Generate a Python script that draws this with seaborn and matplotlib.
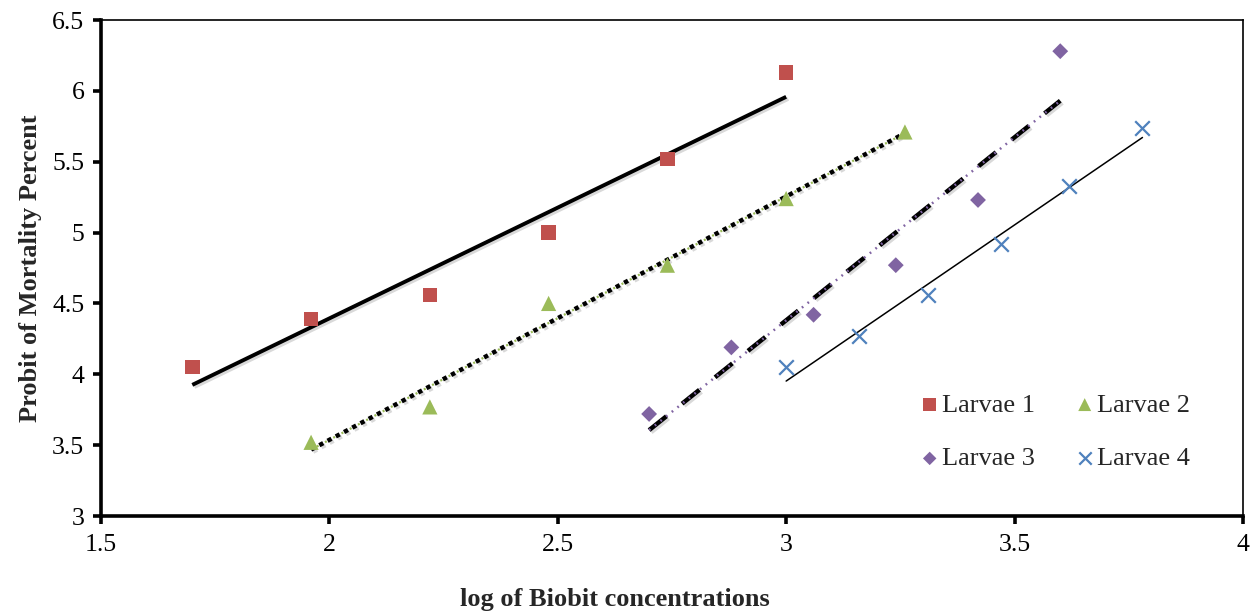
import numpy as np
import pandas as pd
import seaborn as sns
import matplotlib.pyplot as plt
import matplotlib.patheffects as pe

# log concentrations (x) and probit of mortality (y) for each larval instar
larvae1_x = [1.70, 1.96, 2.22, 2.48, 2.74, 3.00]
larvae1_y = [4.05, 4.39, 4.56, 5.00, 5.52, 6.13]
larvae2_x = [1.96, 2.22, 2.48, 2.74, 3.00, 3.26]
larvae2_y = [3.52, 3.77, 4.50, 4.77, 5.24, 5.71]
larvae3_x = [2.70, 2.88, 3.06, 3.24, 3.42, 3.60]
larvae3_y = [3.72, 4.19, 4.42, 4.77, 5.23, 6.28]
larvae4_x = [3.00, 3.16, 3.31, 3.47, 3.62, 3.78]
larvae4_y = [4.05, 4.27, 4.56, 4.92, 5.33, 5.74]

names = ["Larvae 1", "Larvae 2", "Larvae 3", "Larvae 4"]
xs = [larvae1_x, larvae2_x, larvae3_x, larvae4_x]
ys = [larvae1_y, larvae2_y, larvae3_y, larvae4_y]

colors = ["#C0504D", "#9BBB59", "#8064A2", "#4F81BD"]
markers = ["s", "^", "D", "x"]
sizes = [110, 120, 65, 110]

sns.set_style("white")
plt.rcParams['font.family'] = ['Liberation Serif', 'DejaVu Serif']

fig = plt.figure(figsize=(12.54, 6.14), dpi=100)
ax = fig.add_axes([0.0805, 0.1596, 0.9107, 0.8078])

shadow = [pe.SimpleLineShadow(offset=(1.5, -1.5), alpha=0.15, shadow_color="black"), pe.Normal()]

# trendlines (linear fits, drawn by seaborn)
sns.regplot(x=larvae1_x, y=larvae1_y, ax=ax, scatter=False, ci=None,
            line_kws=dict(color="black", lw=2.8, solid_capstyle="butt", path_effects=shadow))
sns.regplot(x=larvae2_x, y=larvae2_y, ax=ax, scatter=False, ci=None,
            line_kws=dict(color="black", lw=3.2, linestyle=(0, (1, 1.1)), path_effects=shadow))
sns.regplot(x=larvae2_x, y=larvae2_y, ax=ax, scatter=False, ci=None,
            line_kws=dict(color=colors[1], lw=1.6, linestyle=(1.3, (0.9, 3.3))))
sns.regplot(x=larvae3_x, y=larvae3_y, ax=ax, scatter=False, ci=None,
            line_kws=dict(color="black", lw=3.2, linestyle=(0, (5, 4.5)), path_effects=shadow))
sns.regplot(x=larvae3_x, y=larvae3_y, ax=ax, scatter=False, ci=None,
            line_kws=dict(color=colors[2], lw=1.8, linestyle=(0, (0.7, 2.2))))
sns.regplot(x=larvae4_x, y=larvae4_y, ax=ax, scatter=False, ci=None,
            line_kws=dict(color="black", lw=1.1))

for name, x, y, c, m, s in zip(names, xs, ys, colors, markers, sizes):
    if m == "x":
        sns.scatterplot(x=x, y=y, ax=ax, marker=m, color=c, s=s, linewidth=1.6, label=name, zorder=3)
    else:
        sns.scatterplot(x=x, y=y, ax=ax, marker=m, color=c, s=s, edgecolor="none", label=name, zorder=3)

ax.set_xlim(1.5, 4)
ax.set_ylim(3, 6.5)
ax.set_xticks([1.5, 2, 2.5, 3, 3.5, 4])
ax.set_xticklabels(["1.5", "2", "2.5", "3", "3.5", "4"])
ax.set_yticks([3, 3.5, 4, 4.5, 5, 5.5, 6, 6.5])
ax.set_yticklabels(["3", "3.5", "4", "4.5", "5", "5.5", "6", "6.5"])

for side in ["top", "right"]:
    ax.spines[side].set_linewidth(1.2)
    ax.spines[side].set_color("black")
for side in ["left", "bottom"]:
    ax.spines[side].set_linewidth(2.6)
    ax.spines[side].set_color("black")

ax.tick_params(axis="both", direction="out", length=6, width=2.6, labelsize=18.5,
               colors="black", bottom=True, left=True)
ax.tick_params(axis="x", pad=7)
ax.tick_params(axis="y", pad=6)

# the x title sits a bit left of centre in the original
ax.set_xlabel("log of Biobit concentrations", fontsize=19, fontweight="bold", labelpad=23, x=0.45)
ax.set_ylabel("Probit of Mortality Percent", fontsize=19, fontweight="bold", labelpad=7)

handles, labels = ax.get_legend_handles_labels()
order = [labels.index(n) for n in ["Larvae 1", "Larvae 3", "Larvae 2", "Larvae 4"]]
ax.legend([handles[i] for i in order], [labels[i] for i in order], ncol=2,
          frameon=False, fontsize=19, loc="center", bbox_to_anchor=(0.836, 0.170),
          handletextpad=0.15, handlelength=0.6, columnspacing=1.6, labelspacing=1.15,
          markerscale=0.85, borderpad=0, borderaxespad=0)

fig.savefig("out.png", dpi=100)
